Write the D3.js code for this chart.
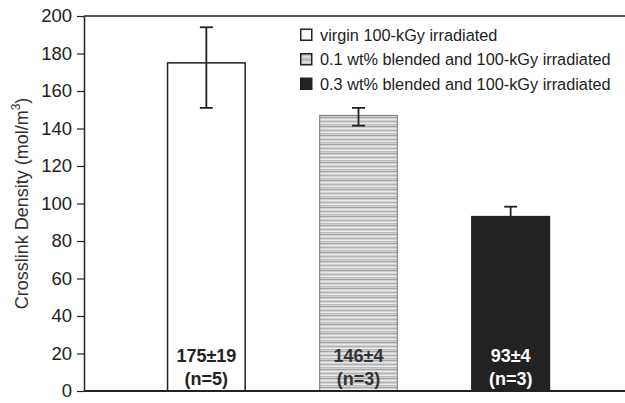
<!DOCTYPE html>
<html>
<head>
<meta charset="utf-8">
<script src="https://cdn.jsdelivr.net/npm/d3@7"></script>
<style>
  body { margin: 0; background: #fff; }
  svg { display: block; font-family: "Liberation Sans", Arial, Helvetica, sans-serif; }
</style>
</head>
<body>
<svg id="chart" width="625" height="403"></svg>
<script>
// data
const groups = ["virgin 100-kGy irradiated", "0.1 wt% blended and 100-kGy irradiated", "0.3 wt% blended and 100-kGy irradiated"];
const means = [175, 147, 93];
const errLow = [151, 141.5, 88.5];
const errHigh = [194, 151, 98.3];
const meanLabels = ["175±19", "146±4", "93±4"];
const nLabels = ["(n=5)", "(n=3)", "(n=3)"];
const yTicks = [0, 20, 40, 60, 80, 100, 120, 140, 160, 180, 200];

const width = 625, height = 403;
const margin = { top: 16, right: 0, bottom: 12, left: 84 };
const ink = "#222";

const svg = d3.select("#chart");

// striped fill for the middle bar
const defs = svg.append("defs");
const pat = defs.append("pattern")
  .attr("id", "stripes")
  .attr("patternUnits", "userSpaceOnUse")
  .attr("width", 8).attr("height", 9);
pat.append("rect").attr("width", 8).attr("height", 9).attr("fill", "#d0d0d0");
pat.append("rect").attr("y", 0).attr("width", 8).attr("height", 1).attr("fill", "#a4a4a4");
pat.append("rect").attr("y", 2).attr("width", 8).attr("height", 1).attr("fill", "#e8e8e8");
pat.append("rect").attr("y", 4).attr("width", 8).attr("height", 1).attr("fill", "#b4b4b4");
pat.append("rect").attr("y", 6).attr("width", 8).attr("height", 1).attr("fill", "#ececec");
pat.append("rect").attr("y", 7).attr("width", 8).attr("height", 1).attr("fill", "#bcbcbc");

const fills = ["#ffffff", "url(#stripes)", "#222222"];
const legendFills = ["#ffffff", "#cfcfcf", "#222222"];

const x = d3.scaleBand()
  .domain(groups)
  .range([93, 624])
  .padding(0.49);

const y = d3.scaleLinear()
  .domain([0, 200])
  .range([height - margin.bottom, margin.top]);

// frame line at top
svg.append("line")
  .attr("x1", margin.left).attr("x2", width)
  .attr("y1", y(200)).attr("y2", y(200))
  .attr("stroke", ink).attr("stroke-width", 1.5);

// bars
svg.selectAll(".bar")
  .data(groups)
  .enter()
  .append("rect")
  .attr("class", "bar")
  .attr("x", (d) => x(d))
  .attr("width", x.bandwidth())
  .attr("y", (d, i) => y(means[i]))
  .attr("height", (d, i) => y(0) - y(means[i]))
  .attr("fill", (d, i) => fills[i])
  .attr("stroke", (d, i) => (i === 1 ? "#777" : ink))
  .attr("stroke-width", (d, i) => (i === 1 ? 1 : 1.5));

// error bars
const cap = 6.5;
const err = svg.append("g").attr("stroke", ink).attr("stroke-width", 1.8);
groups.forEach((g, i) => {
  const cx = x(g) + x.bandwidth() / 2;
  err.append("line").attr("x1", cx).attr("x2", cx)
    .attr("y1", y(errLow[i])).attr("y2", y(errHigh[i]));
  err.append("line").attr("x1", cx - cap).attr("x2", cx + cap)
    .attr("y1", y(errHigh[i])).attr("y2", y(errHigh[i]));
  err.append("line").attr("x1", cx - cap).attr("x2", cx + cap)
    .attr("y1", y(errLow[i])).attr("y2", y(errLow[i]));
});

// value labels inside bars
const labelColors = [ink, "#333", "#ffffff"];
groups.forEach((g, i) => {
  const cx = x(g) + x.bandwidth() / 2;
  svg.append("text")
    .attr("x", cx).attr("y", 362)
    .attr("text-anchor", "middle")
    .attr("font-size", "18px").attr("font-weight", "bold")
    .attr("fill", labelColors[i])
    .text(meanLabels[i]);
  svg.append("text")
    .attr("x", cx).attr("y", 385)
    .attr("text-anchor", "middle")
    .attr("font-size", "18px").attr("font-weight", "bold")
    .attr("fill", labelColors[i])
    .text(nLabels[i]);
});

// y axis
const yAxis = svg.append("g")
  .attr("transform", `translate(${margin.left},0)`)
  .call(d3.axisLeft(y).tickValues(yTicks).tickSize(7).tickSizeOuter(0).tickPadding(5));
yAxis.select(".domain").attr("stroke", ink).attr("stroke-width", 1.5);
yAxis.selectAll(".tick line").attr("stroke", ink).attr("stroke-width", 1.2);
yAxis.selectAll(".tick text")
  .attr("font-size", "18.5px")
  .attr("font-family", "Liberation Sans, Arial, sans-serif")
  .attr("fill", ink);

// baseline
svg.append("line")
  .attr("x1", margin.left).attr("x2", width)
  .attr("y1", y(0)).attr("y2", y(0))
  .attr("stroke", ink).attr("stroke-width", 2);

// y label
const yl = svg.append("text")
  .attr("transform", `translate(28,${(y(0) + y(200)) / 2}) rotate(-90)`)
  .attr("text-anchor", "middle")
  .attr("font-size", "18px")
  .attr("fill", "#333");
yl.append("tspan").text("Crosslink Density (mol/m");
yl.append("tspan").attr("font-size", "12px").attr("dy", -8).text("3");
yl.append("tspan").attr("dy", 8).text(")");

// legend
const legend = svg.append("g").attr("transform", "translate(300,35)");
groups.forEach((g, i) => {
  const row = legend.append("g").attr("transform", `translate(0,${i * 24.5})`);
  row.append("rect")
    .attr("x", 0.75).attr("y", -5.75)
    .attr("width", 11).attr("height", 11)
    .attr("fill", i === 1 ? "url(#stripes)" : legendFills[i])
    .attr("stroke", ink).attr("stroke-width", 1.5);
  row.append("text")
    .attr("x", 20).attr("y", 0)
    .attr("dy", "0.35em")
    .attr("font-size", "16.3px")
    .attr("fill", ink)
    .text(g);
});
</script>
</body>
</html>
